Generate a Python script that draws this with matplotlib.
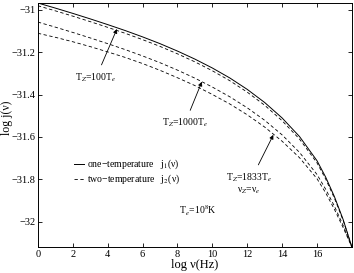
import matplotlib
matplotlib.use("Agg")
import matplotlib.pyplot as plt
import numpy as np
from matplotlib.ticker import FuncFormatter

plt.rcParams['font.family'] = ['Liberation Serif', 'DejaVu Serif']
plt.rcParams['mathtext.fontset'] = 'stix'

# log nu (Hz)
lognu = [0, 1, 2, 3, 4, 5, 6, 7, 8, 9, 10, 11, 12, 13, 14, 15, 16, 16.5, 17, 17.5, 18]
# one-temperature j1(nu)
j_one = [-30.967, -30.991, -31.016, -31.042, -31.069, -31.097, -31.127, -31.159,
         -31.194, -31.232, -31.274, -31.321, -31.375, -31.437, -31.510, -31.598,
         -31.712, -31.790, -31.882, -31.990, -32.120]
# two-temperature j2(nu), TZ = 100 Te
j_100 = [-30.980, -31.004, -31.029, -31.055, -31.082, -31.110, -31.140, -31.172,
         -31.207, -31.245, -31.287, -31.334, -31.388, -31.450, -31.523, -31.610,
         -31.722, -31.799, -31.889, -31.994, -32.120]
# TZ = 1000 Te
j_1000 = [-31.057, -31.081, -31.106, -31.132, -31.159, -31.187, -31.217, -31.249,
          -31.284, -31.322, -31.364, -31.410, -31.462, -31.521, -31.590, -31.673,
          -31.777, -31.847, -31.927, -32.018, -32.120]
# TZ = 1833 Te, nuZ = nue
j_1833 = [-31.110, -31.129, -31.150, -31.173, -31.198, -31.224, -31.253, -31.285,
          -31.320, -31.357, -31.399, -31.444, -31.495, -31.553, -31.620, -31.698,
          -31.797, -31.864, -31.942, -32.028, -32.120]

fig = plt.figure(figsize=(3.54, 2.73), dpi=100)
ax = fig.add_axes([0.107, 0.095, 0.887, 0.894])

dash = (0, (4, 3))
ax.plot(lognu, j_one, '-', color='k', lw=0.7, label='one\u2212temperature   j$_1$(\u03bd)')
ax.plot(lognu, j_100, color='k', lw=0.6, linestyle=dash, label='two\u2212temperature   j$_2$(\u03bd)')
ax.plot(lognu, j_1000, color='k', lw=0.6, linestyle=dash)
ax.plot(lognu, j_1833, color='k', lw=0.6, linestyle=dash)

ax.set_xlim(0, 18)
ax.set_ylim(-32.12, -30.967)
ax.set_xticks(np.arange(0, 17, 2))
ax.set_yticks([-32, -31.8, -31.6, -31.4, -31.2, -31])
ax.yaxis.set_major_formatter(FuncFormatter(lambda v, p: ('%g' % v).replace('-', '\u2212')))
ax.tick_params(direction='in', top=True, right=True, length=3, width=0.6, labelsize=7.5, pad=2)
ax.tick_params(axis='y', pad=1.5)
for s in ax.spines.values():
    s.set_linewidth(0.7)

ax.set_xlabel('log \u03bd(Hz)', fontsize=9, labelpad=0)
ax.set_ylabel('log j(\u03bd)', fontsize=8.5)
ax.yaxis.set_label_coords(-0.08, 0.53)

arrow = dict(arrowstyle='-|>', color='k', lw=0.6, mutation_scale=6, shrinkA=3, shrinkB=0)
ax.annotate('T$_Z$=100T$_e$', xy=(4.53, -31.09), xytext=(3.33, -31.32),
            ha='center', va='center', fontsize=7, arrowprops=arrow)
ax.annotate('T$_Z$=1000T$_e$', xy=(9.4, -31.339), xytext=(8.43, -31.535),
            ha='center', va='center', fontsize=7, arrowprops=arrow)
ax.annotate('T$_Z$=1833T$_e$\n\u03bd$_Z$=\u03bd$_e$', xy=(13.5, -31.59), xytext=(12.1, -31.82),
            ha='center', va='center', fontsize=7, linespacing=1.2, arrowprops=arrow)
ax.text(9.17, -31.95, 'T$_e$=10$^8$K', ha='center', va='center', fontsize=7)

ax.legend(loc='upper left', bbox_to_anchor=(0.1, 0.385), frameon=False, fontsize=7,
          handlelength=1.0, handletextpad=0.3, labelspacing=0.15, borderpad=0)

fig.savefig('out.png', dpi=100)
